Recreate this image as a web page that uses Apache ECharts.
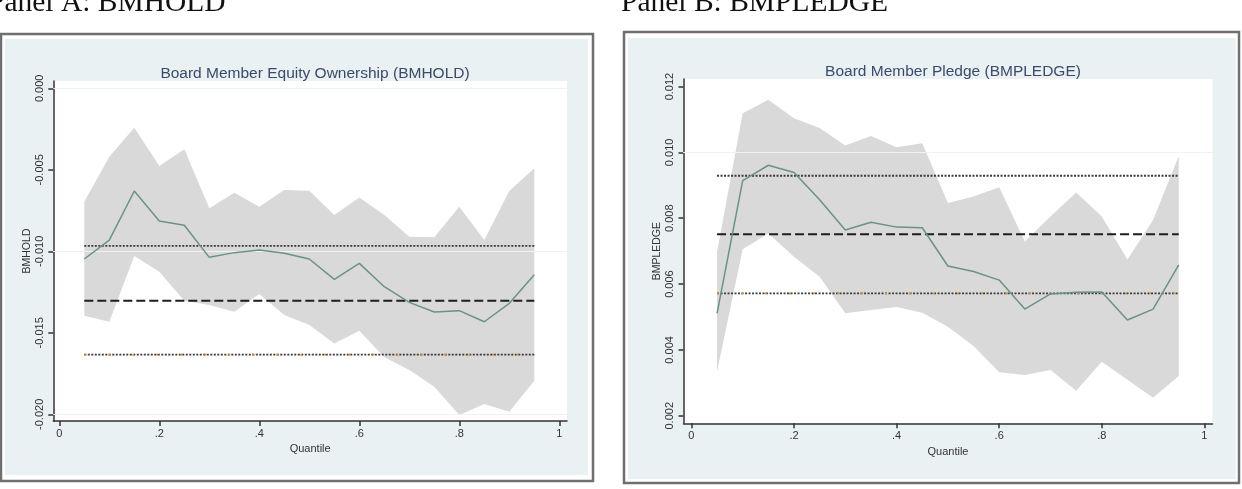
<!DOCTYPE html>
<html>
<head>
<meta charset="utf-8">
<script src="https://cdn.jsdelivr.net/npm/echarts@6/dist/echarts.min.js"></script>
<style>
  html, body { margin: 0; padding: 0; background: #fff; }
  #main { width: 1242px; height: 489px; }
</style>
</head>
<body>
<div id="main"></div>
<script>
// quantile grid of the two regressions
var quantiles = [0.05, 0.10, 0.15, 0.20, 0.25, 0.30, 0.35, 0.40, 0.45, 0.50,
                 0.55, 0.60, 0.65, 0.70, 0.75, 0.80, 0.85, 0.90, 0.95];

// Panel A: BMHOLD
var holdCoef = [-0.01047, -0.00931, -0.00630, -0.00814, -0.00840, -0.01037, -0.01008, -0.00992, -0.01012, -0.01047,
                -0.01172, -0.01074, -0.01217, -0.01313, -0.01372, -0.01364, -0.01432, -0.01319, -0.01143];
var holdHi   = [-0.00696, -0.00420, -0.00242, -0.00477, -0.00374, -0.00736, -0.00640, -0.00726, -0.00624, -0.00628,
                -0.00777, -0.00669, -0.00777, -0.00910, -0.00914, -0.00726, -0.00931, -0.00630, -0.00491];
var holdLo   = [-0.01395, -0.01432, -0.01029, -0.01125, -0.01303, -0.01330, -0.01370, -0.01262, -0.01391, -0.01452,
                -0.01565, -0.01487, -0.01650, -0.01728, -0.01831, -0.02004, -0.01937, -0.01984, -0.01794];
var holdOls = -0.01303, holdOlsLo = -0.01634, holdOlsHi = -0.00967;
var holdTicks = [-0.020, -0.015, -0.010, -0.005, 0.000];

// Panel B: BMPLEDGE
var pledgeCoef = [0.00511, 0.00914, 0.00961, 0.00939, 0.00856, 0.00764, 0.00788, 0.00773, 0.00771, 0.00655,
                  0.00638, 0.00612, 0.00524, 0.00570, 0.00575, 0.00576, 0.00491, 0.00524, 0.00658];
var pledgeHi   = [0.00698, 0.01119, 0.01160, 0.01104, 0.01074, 0.01021, 0.01050, 0.01016, 0.01028, 0.00846,
                  0.00866, 0.00894, 0.00729, 0.00805, 0.00878, 0.00805, 0.00675, 0.00795, 0.00989];
var pledgeLo   = [0.00334, 0.00706, 0.00754, 0.00683, 0.00622, 0.00511, 0.00521, 0.00530, 0.00513, 0.00470,
                  0.00412, 0.00332, 0.00324, 0.00339, 0.00276, 0.00364, 0.00309, 0.00255, 0.00321];
var pledgeOls = 0.00751, pledgeOlsLo = 0.00572, pledgeOlsHi = 0.00929;
var pledgeTicks = [0.002, 0.004, 0.006, 0.008, 0.010, 0.012];

var quantTicks = [0, 0.2, 0.4, 0.6, 0.8, 1];

var FONT = '"Liberation Sans", Arial, sans-serif';
var SERIF = '"Liberation Serif", "Times New Roman", serif';

function pairs(xs, ys) {
	var out = [];
	for (var i = 0; i < xs.length; i++) out.push([xs[i], ys[i]]);
	return out;
}
function flat(v) {
	return [[quantiles[0], v], [quantiles[quantiles.length - 1], v]];
}

function xAxisOf(idx) {
	return {
		type: 'value', gridIndex: idx, min: idx == 0 ? -0.012 : -0.0154, max: idx == 0 ? 1.0154 : 1.0158,
		name: 'Quantile', nameLocation: 'middle', nameGap: 20,
		nameTextStyle: { fontFamily: FONT, fontSize: 11, color: '#333' },
		axisLine: { onZero: false, lineStyle: { color: '#333', width: 1.5 } },
		axisTick: { customValues: quantTicks, length: 5, lineStyle: { color: '#333', width: 1.5 } },
		axisLabel: {
			customValues: quantTicks, margin: 7, fontFamily: FONT, fontSize: 11, color: '#333',
			formatter: function (v) { return v == 0 ? '0' : v == 1 ? '1' : String(+v.toFixed(1)).replace('0.', '.'); }
		},
		splitLine: { show: false }
	};
}
function yAxisOf(idx, min, max, ticks, name) {
	return {
		type: 'value', gridIndex: idx, min: min, max: max,
		name: name, nameLocation: 'middle', nameGap: 21, nameRotate: 90,
		nameTextStyle: { fontFamily: FONT, fontSize: 10.5, color: '#333' },
		axisLine: { show: true, onZero: false, lineStyle: { color: '#333', width: 1.5 } },
		axisTick: { show: true, customValues: ticks, length: 5, lineStyle: { color: '#333', width: 1.5 } },
		axisLabel: {
			customValues: ticks, rotate: 90, margin: 8, fontFamily: FONT, fontSize: 11, color: '#333',
			formatter: function (v) { return v.toFixed(3); }
		},
		splitLine: { show: false }
	};
}

// confidence band drawn as one polygon through the axes' own coordinate mapping
function bandSeries(idx, lo, hi) {
	return {
		type: 'custom', xAxisIndex: idx, yAxisIndex: idx, silent: true, z: 2,
		data: pairs(quantiles, lo),
		renderItem: function (params, api) {
			if (params.dataIndex !== 0) return null;
			var pts = [];
			for (var i = 0; i < quantiles.length; i++) pts.push(api.coord([quantiles[i], hi[i]]));
			for (var j = quantiles.length - 1; j >= 0; j--) pts.push(api.coord([quantiles[j], lo[j]]));
			return { type: 'polygon', shape: { points: pts }, style: { fill: '#d9d9d9' } };
		}
	};
}

function panelSeries(idx, coef, lo, hi, ols, olsLo, olsHi, ticks) {
	var grid = [];
	for (var i = 0; i < ticks.length; i++) grid.push({ yAxis: ticks[i] });
	return [
		{
			type: 'line', xAxisIndex: idx, yAxisIndex: idx, data: flat(olsHi), symbol: 'none', z: 1,
			lineStyle: { opacity: 0 }, silent: true,
			markLine: { silent: true, symbol: 'none', label: { show: false },
				lineStyle: { color: '#edf3f4', width: 1, type: 'solid' }, data: grid }
		},
		bandSeries(idx, lo, hi),
		{
			type: 'line', xAxisIndex: idx, yAxisIndex: idx, data: flat(olsHi), symbol: 'none', z: 3,
			lineStyle: { color: '#3a3a3a', width: 1.8, type: [2, 1.5] }
		},
		{
			type: 'line', xAxisIndex: idx, yAxisIndex: idx, data: flat(olsLo), symbol: 'none', z: 3,
			lineStyle: { color: '#3a3a3a', width: 1.8, type: [2, 1.5] }
		},
		{
			type: 'line', xAxisIndex: idx, yAxisIndex: idx, data: flat(olsLo), symbol: 'none', z: 4,
			lineStyle: { color: '#d98a3a', width: 1.8, type: [2, 22] }
		},
		{
			type: 'line', xAxisIndex: idx, yAxisIndex: idx, data: flat(ols), symbol: 'none', z: 4,
			lineStyle: { color: '#1e1e1e', width: 2, type: [9, 4] }
		},
		{
			type: 'line', xAxisIndex: idx, yAxisIndex: idx, data: pairs(quantiles, coef), symbol: 'none', z: 5,
			lineStyle: { color: '#6c9188', width: 1.5 }
		}
	];
}

var chart = echarts.init(document.getElementById('main'), null, { renderer: 'canvas' });

var option = {
	animation: false,
	backgroundColor: '#ffffff',
	graphic: [
		{ type: 'text', left: -12, top: -12, z: 10, style: { text: 'Panel A: BMHOLD', font: '29.5px ' + SERIF, fill: '#111' } },
		{ type: 'text', left: 621, top: -12, z: 10, style: { text: 'Panel B: BMPLEDGE', font: '29.5px ' + SERIF, fill: '#111' } },
		{ type: 'rect', z: -10, shape: { x: 1, y: 34, width: 592, height: 447 }, style: { fill: '#fff', stroke: '#6f6f6f', lineWidth: 2.5 } },
		{ type: 'rect', z: -9, shape: { x: 5, y: 39, width: 583, height: 436 }, style: { fill: '#e9f1f3' } },
		{ type: 'rect', z: -10, shape: { x: 624, y: 32, width: 615, height: 451 }, style: { fill: '#fff', stroke: '#6f6f6f', lineWidth: 2.5 } },
		{ type: 'rect', z: -9, shape: { x: 628, y: 38, width: 608, height: 441 }, style: { fill: '#e9f1f3' } }
	],
	title: [
		{ text: 'Board Member Equity Ownership (BMHOLD)', left: 310, top: 61, textAlign: 'center',
		  textStyle: { fontFamily: FONT, fontSize: 15.5, fontWeight: 'normal', color: '#3b4a68' } },
		{ text: 'Board Member Pledge (BMPLEDGE)', left: 948, top: 59, textAlign: 'center',
		  textStyle: { fontFamily: FONT, fontSize: 15.5, fontWeight: 'normal', color: '#3b4a68' } }
	],
	grid: [
		{ left: 53.3, top: 81, width: 513.7, height: 340, show: true, backgroundColor: '#fff', borderWidth: 0 },
		{ left: 683.5, top: 79, width: 529, height: 344.3, show: true, backgroundColor: '#fff', borderWidth: 0 }
	],
	xAxis: [xAxisOf(0), xAxisOf(1)],
	yAxis: [
		yAxisOf(0, -0.02041, 0.00045, holdTicks, 'BMHOLD'),
		yAxisOf(1, 0.00177, 0.01223, pledgeTicks, 'BMPLEDGE')
	],
	series: [].concat(
		panelSeries(0, holdCoef, holdLo, holdHi, holdOls, holdOlsLo, holdOlsHi, holdTicks),
		panelSeries(1, pledgeCoef, pledgeLo, pledgeHi, pledgeOls, pledgeOlsLo, pledgeOlsHi, pledgeTicks)
	)
};

chart.setOption(option);
</script>
</body>
</html>
